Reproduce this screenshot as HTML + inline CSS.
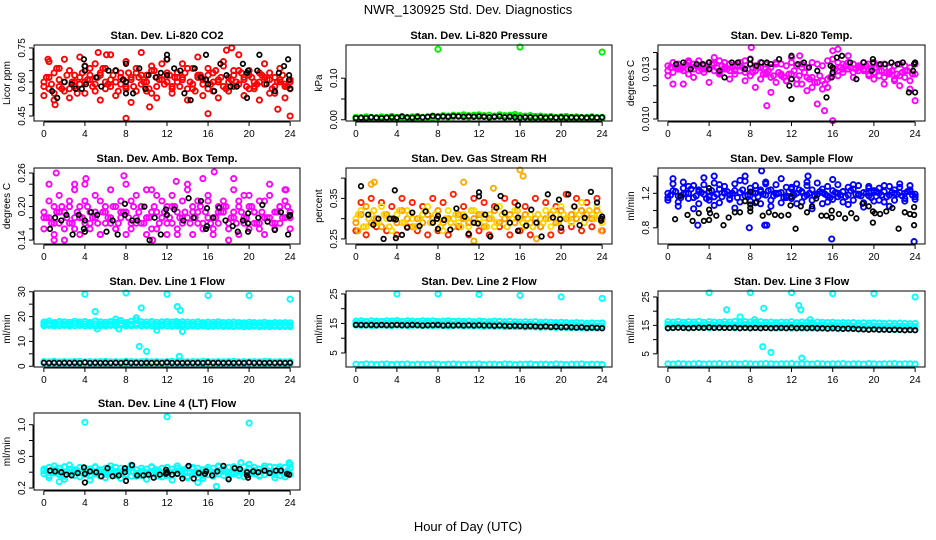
<!DOCTYPE html>
<html><head><meta charset="utf-8"><title>NWR_130925 Std. Dev. Diagnostics</title>
<style>
html,body{margin:0;padding:0;background:#fff;}
svg{display:block;font-family:"Liberation Sans",Arial,sans-serif;}
</style></head>
<body>
<svg id="chart" width="936" height="540" viewBox="0 0 936 540" xmlns="http://www.w3.org/2000/svg">
<rect x="0" y="0" width="936" height="540" fill="#fff"/>
<text x="468" y="14" text-anchor="middle" font-size="13">NWR_130925  Std. Dev. Diagnostics</text>
<text x="468" y="531" text-anchor="middle" font-size="13">Hour of Day (UTC)</text>
</svg>
<script>
const HH=[0,0.5,1,1.5,2,2.5,3,3.5,4,4.5,5,5.5,6,6.5,7,7.5,8,8.5,9,9.5,10,10.5,11,11.5,12,12.5,13,13.5,14,14.5,15,15.5,16,16.5,17,17.5,18,18.5,19,19.5,20,20.5,21,21.5,22,22.5,23,23.5,24];
const HQ=[0.25,0.75,1.25,1.75,2.25,2.75,3.25,3.75,4.25,4.75,5.25,5.75,6.25,6.75,7.25,7.75,8.25,8.75,9.25,9.75,10.25,10.75,11.25,11.75,12.25,12.75,13.25,13.75,14.25,14.75,15.25,15.75,16.25,16.75,17.25,17.75,18.25,18.75,19.25,19.75,20.25,20.75,21.25,21.75,22.25,22.75,23.25,23.75];
const X_TICKS=[0,4,8,12,16,20,24];

// Panel 1 CO2
const co2A=[0.58,0.62,0.55,0.66,0.60,0.57,0.63,0.59,0.67,0.61,0.56,0.64,0.60,0.58,0.65,0.62,0.57,0.61,0.66,0.59,0.63,0.55,0.62,0.68,0.60,0.58,0.64,0.61,0.57,0.66,0.62,0.59,0.63,0.56,0.61,0.67,0.60,0.58,0.65,0.62,0.57,0.60,0.64,0.59,0.55,0.62,0.60,0.58,0.61];
const co2B=[0.54,0.69,0.52,0.58,0.70,0.53,0.60,0.71,0.55,0.63,0.68,0.52,0.66,0.72,0.54,0.59,0.69,0.51,0.64,0.73,0.56,0.67,0.53,0.61,0.70,0.55,0.62,0.68,0.52,0.57,0.71,0.54,0.66,0.60,0.53,0.69,0.56,0.63,0.72,0.54,0.65,0.58,0.52,0.68,0.61,0.55,0.66,0.53,0.57];
const co2C=[0.60,0.57,0.64,0.61,0.56,0.65,0.58,0.62,0.60,0.66,0.59,0.63,0.57,0.61,0.60,0.64,0.58,0.62,0.56,0.63,0.60,0.65,0.58,0.61,0.64,0.57,0.60,0.62,0.66,0.59,0.63,0.61,0.57,0.64,0.60,0.58,0.62,0.65,0.59,0.61,0.63,0.57,0.60,0.62,0.64,0.58,0.61,0.59,0.60];
const co2D=[0.62,0.59,0.66,0.57,0.63,0.60,0.55,0.64,0.61,0.58,0.62,0.66,0.59,0.63,0.56,0.61,0.64,0.58,0.62,0.60,0.57,0.65,0.61,0.59,0.63,0.62,0.58,0.64,0.60,0.56,0.63,0.61,0.59,0.65,0.62,0.57,0.61,0.60,0.64,0.58,0.62,0.59,0.63,0.61,0.57,0.60,0.63,0.58];
const co2OutX=[8,16,24,5.3,6.1,18.3,17.8,0.4,1.1,10.3,22.8];
const co2OutY=[0.44,0.46,0.45,0.73,0.72,0.75,0.74,0.70,0.50,0.49,0.48];
const co2BlkX=[0.8,1.3,2,2.7,3.1,3.7,3.9,4,4,4.1,5.1,5.6,6.3,7,7.7,8,8,8,8.7,9.3,9.9,10.2,10.9,11.4,12,12,12,12.7,13.3,13.7,14.3,14.7,15.3,15.8,15.8,16,16.6,17.2,17.8,18.2,18.8,19.4,19.8,19.8,19.9,21,20.8,21.7,22.5,22.9,23.4,23.8,23.9,23.9,24];
const co2BlkY=[0.56,0.53,0.60,0.59,0.57,0.57,0.70,0.67,0.65,0.59,0.62,0.58,0.65,0.65,0.61,0.60,0.68,0.55,0.55,0.66,0.57,0.63,0.62,0.64,0.70,0.72,0.63,0.66,0.65,0.55,0.52,0.66,0.62,0.61,0.72,0.59,0.56,0.68,0.63,0.58,0.58,0.68,0.64,0.53,0.65,0.72,0.65,0.59,0.56,0.64,0.67,0.70,0.63,0.61,0.57];

// Panel 2 pressure
const presA=[0.006,0.005,0.007,0.006,0.005,0.007,0.006,0.008,0.006,0.007,0.005,0.007,0.008,0.006,0.007,0.009,0.008,0.010,0.009,0.011,0.010,0.012,0.010,0.011,0.012,0.010,0.011,0.009,0.012,0.010,0.011,0.013,0.010,0.009,0.010,0.008,0.009,0.007,0.008,0.006,0.007,0.008,0.006,0.007,0.005,0.006,0.007,0.005,0.006];
const presB=[0.003,0.004,0.003,0.005,0.004,0.003,0.005,0.004,0.005,0.004,0.003,0.005,0.004,0.005,0.006,0.005,0.006,0.007,0.006,0.007,0.008,0.007,0.006,0.008,0.007,0.008,0.006,0.007,0.008,0.006,0.007,0.008,0.006,0.007,0.005,0.006,0.005,0.004,0.006,0.005,0.004,0.005,0.004,0.005,0.004,0.003,0.004,0.005,0.004];
const presBlk=[0.004,0.005,0.004,0.006,0.005,0.004,0.005,0.006,0.005,0.008,0.006,0.005,0.007,0.006,0.007,0.009,0.007,0.008,0.007,0.009,0.008,0.007,0.008,0.007,0.008,0.007,0.006,0.007,0.008,0.006,0.007,0.006,0.005,0.006,0.006,0.005,0.006,0.005,0.006,0.005,0.006,0.005,0.006,0.005,0.006,0.005,0.006,0.005,0.006];
const presOutX=[8,16,24];
const presOutY=[0.170,0.175,0.163];

// Panel 3 Li-820 temp
const tmpA=[0.0132,0.0134,0.0133,0.0131,0.0134,0.0133,0.0135,0.0132,0.0134,0.0133,0.0135,0.0134,0.0133,0.0132,0.0134,0.0135,0.0133,0.0132,0.0134,0.0133,0.0131,0.0134,0.0133,0.0132,0.0134,0.0132,0.0133,0.0131,0.0134,0.0133,0.0132,0.0135,0.0136,0.0134,0.0133,0.0134,0.0133,0.0132,0.0134,0.0133,0.0134,0.0132,0.0133,0.0131,0.0132,0.0133,0.0132,0.0131,0.0133];
const tmpB=[0.0129,0.0128,0.0130,0.0129,0.0127,0.0130,0.0129,0.0128,0.0130,0.0129,0.0128,0.0130,0.0129,0.0127,0.0129,0.0128,0.0126,0.0129,0.0124,0.0127,0.0125,0.0122,0.0126,0.0123,0.0127,0.0124,0.0121,0.0125,0.0119,0.0122,0.0118,0.0124,0.0127,0.0129,0.0128,0.0130,0.0128,0.0129,0.0130,0.0127,0.0128,0.0126,0.0125,0.0127,0.0124,0.0126,0.0125,0.0123,0.0127];
const tmpC=[0.0126,0.0121,0.0131,0.0121,0.0135,0.0125,0.0132,0.0130,0.0122,0.0137,0.0127,0.0131,0.0124,0.0129,0.0132,0.0123,0.0136,0.0119,0.0131,0.0128,0.0116,0.0133,0.0127,0.0123,0.0137,0.0121,0.0131,0.0117,0.0125,0.0109,0.0123,0.0119,0.0141,0.0126,0.0130,0.0138,0.0125,0.0131,0.0129,0.0126,0.0124,0.0129,0.0121,0.0128,0.0123,0.0120,0.0129,0.0118,0.0111];
const tmpD=[0.0131,0.0132,0.0130,0.0133,0.0131,0.0132,0.0130,0.0131,0.0133,0.0131,0.0132,0.0130,0.0131,0.0132,0.0131,0.0130,0.0128,0.0131,0.0127,0.0129,0.0126,0.0128,0.0125,0.0127,0.0129,0.0126,0.0128,0.0124,0.0122,0.0126,0.0121,0.0125,0.0130,0.0131,0.0132,0.0131,0.0130,0.0131,0.0132,0.0130,0.0131,0.0129,0.0128,0.0129,0.0127,0.0128,0.0129,0.0127];
const tmpOutX=[8.1,16,9.6,16.5,12.8,15.2];
const tmpOutY=[0.0143,0.0099,0.0108,0.0142,0.0138,0.0105];
const tmpBlkX=[0.8,1.5,2.2,2.8,3.4,4,4,5,5.5,6.2,6.8,7.5,8,8,8.6,9.1,9.6,10,10.8,11.8,12,12,12,12.6,13.2,13.7,14.5,15.4,15.8,15.9,16,16,16.4,16.9,17.7,18.3,19,19.9,19.9,19.8,20.6,21.1,21.7,22.3,22.8,23.4,23.8,23.9,24,24];
const tmpBlkY=[0.0133,0.0134,0.0130,0.0133,0.0133,0.0134,0.0130,0.0129,0.0125,0.0134,0.0134,0.0130,0.0133,0.0136,0.0132,0.0134,0.0134,0.0133,0.0136,0.0120,0.0138,0.0124,0.0112,0.0133,0.0134,0.0131,0.0129,0.0113,0.0132,0.0125,0.0128,0.0131,0.0137,0.0138,0.0134,0.0124,0.0134,0.0136,0.0134,0.0129,0.0133,0.0133,0.0134,0.0133,0.0134,0.0116,0.0129,0.0133,0.0134,0.0116];

// Panel 4 amb box temp
const ambA=[0.19,0.18,0.20,0.17,0.19,0.21,0.18,0.20,0.17,0.19,0.18,0.21,0.19,0.17,0.20,0.18,0.19,0.21,0.17,0.20,0.18,0.19,0.22,0.18,0.20,0.17,0.19,0.21,0.18,0.20,0.19,0.17,0.21,0.18,0.19,0.20,0.17,0.19,0.21,0.18,0.20,0.19,0.17,0.21,0.18,0.19,0.20,0.18,0.19];
const ambB=[0.16,0.21,0.15,0.22,0.16,0.17,0.23,0.15,0.21,0.16,0.22,0.15,0.17,0.23,0.16,0.21,0.15,0.16,0.22,0.17,0.15,0.23,0.16,0.21,0.15,0.22,0.16,0.17,0.23,0.15,0.21,0.16,0.22,0.15,0.17,0.21,0.16,0.23,0.15,0.22,0.16,0.17,0.21,0.15,0.22,0.16,0.17,0.21,0.16];
const ambC=[0.18,0.24,0.17,0.19,0.14,0.20,0.16,0.18,0.24,0.17,0.19,0.15,0.20,0.18,0.16,0.19,0.24,0.17,0.18,0.20,0.23,0.16,0.19,0.18,0.17,0.20,0.15,0.18,0.24,0.19,0.17,0.25,0.18,0.16,0.20,0.19,0.14,0.18,0.20,0.17,0.22,0.19,0.16,0.18,0.24,0.17,0.20,0.23,0.18];
const ambD=[0.18,0.17,0.19,0.20,0.18,0.17,0.19,0.18,0.20,0.18,0.17,0.19,0.18,0.20,0.17,0.19,0.18,0.20,0.19,0.17,0.18,0.20,0.17,0.19,0.18,0.20,0.18,0.19,0.17,0.18,0.20,0.19,0.17,0.18,0.19,0.20,0.18,0.17,0.19,0.18,0.20,0.17,0.19,0.18,0.17,0.19,0.18,0.20];
const ambOutX=[1.2,7.8,16.6,4.1,1,3,12.9,18.5,23.6,10.6];
const ambOutY=[0.26,0.255,0.262,0.25,0.14,0.24,0.245,0.25,0.23,0.14];
const ambBlkX=[0.6,1.1,1.7,2.2,2.8,3.4,3.9,4,4,4.6,5.2,6.1,6.7,7.2,7.9,7.9,8.6,9.1,9.8,10.3,10.8,11.4,11.9,12,12.7,13.6,14.1,14.6,15.3,15.9,15.9,15.8,16.5,17.1,17.7,18.4,18.9,19.4,19.9,19.9,19.9,20.9,21.3,21.8,22.5,23.1,23.8,23.9,24];
const ambBlkY=[0.16,0.18,0.175,0.185,0.15,0.185,0.16,0.155,0.175,0.19,0.185,0.155,0.175,0.15,0.205,0.185,0.175,0.175,0.2,0.14,0.18,0.15,0.195,0.185,0.195,0.175,0.215,0.18,0.21,0.197,0.165,0.16,0.18,0.198,0.175,0.165,0.155,0.175,0.155,0.17,0.188,0.18,0.203,0.173,0.158,0.19,0.15,0.183,0.185];

// Panel 5 gas stream RH
const rhA=[0.30,0.32,0.28,0.31,0.29,0.33,0.30,0.27,0.31,0.29,0.32,0.30,0.28,0.31,0.33,0.29,0.30,0.27,0.32,0.30,0.29,0.31,0.28,0.32,0.30,0.29,0.31,0.28,0.33,0.30,0.29,0.32,0.30,0.28,0.31,0.29,0.30,0.32,0.28,0.31,0.33,0.30,0.29,0.32,0.34,0.30,0.31,0.33,0.29];
const rhB=[0.27,0.34,0.26,0.35,0.28,0.34,0.27,0.33,0.26,0.35,0.28,0.34,0.27,0.33,0.26,0.35,0.27,0.34,0.26,0.36,0.28,0.33,0.26,0.35,0.27,0.34,0.26,0.33,0.28,0.35,0.26,0.34,0.27,0.33,0.26,0.35,0.28,0.34,0.26,0.33,0.27,0.36,0.28,0.35,0.27,0.34,0.28,0.35,0.27];
const rhC=[0.29,0.31,0.33,0.29,0.30,0.28,0.31,0.30,0.29,0.32,0.30,0.28,0.30,0.29,0.31,0.30,0.32,0.29,0.30,0.28,0.31,0.30,0.29,0.30,0.31,0.28,0.30,0.32,0.29,0.30,0.31,0.29,0.30,0.31,0.29,0.30,0.28,0.30,0.31,0.29,0.32,0.30,0.31,0.30,0.32,0.31,0.30,0.32,0.30];
const rhD=[0.31,0.28,0.30,0.32,0.29,0.31,0.28,0.30,0.32,0.29,0.31,0.28,0.30,0.32,0.29,0.31,0.28,0.30,0.29,0.31,0.28,0.30,0.32,0.29,0.31,0.28,0.30,0.29,0.31,0.28,0.30,0.32,0.29,0.30,0.28,0.31,0.29,0.30,0.32,0.29,0.31,0.30,0.33,0.31,0.29,0.32,0.30,0.31];
const rhOutX=[1.5,1.8,10.5,16.3,16,13.4,0.2,23.9,11.5,17.6];
const rhOutY=[0.385,0.39,0.39,0.405,0.42,0.375,0.27,0.27,0.245,0.25];
const rhBlkX=[0.5,1.2,1.7,2.2,2.7,3.3,3.7,3.8,3.9,3.9,4.5,5,5.5,6.2,6.8,7.5,7.9,8,8,8.6,9.2,9.8,10.6,11,11.5,11.9,12,12,12.6,13.1,13.7,14.1,14.5,15,15.8,15.8,15.8,16.6,17.1,17.6,18.1,18.7,19.2,19.8,19.9,20,20.7,21.3,21.8,22.3,22.9,23.5,23.9,24,23.9];
const rhBlkY=[0.38,0.31,0.285,0.30,0.25,0.30,0.30,0.37,0.298,0.252,0.26,0.278,0.315,0.282,0.318,0.29,0.30,0.307,0.275,0.297,0.273,0.325,0.305,0.263,0.29,0.288,0.365,0.355,0.31,0.256,0.327,0.356,0.315,0.29,0.333,0.27,0.303,0.283,0.322,0.29,0.256,0.36,0.303,0.347,0.299,0.278,0.36,0.33,0.284,0.302,0.366,0.34,0.30,0.305,0.295];

// Panel 6 sample flow
const sfA=[1.20,1.23,1.17,1.26,1.20,1.15,1.24,1.19,1.22,1.16,1.25,1.20,1.18,1.23,1.21,1.17,1.26,1.20,1.22,1.18,1.24,1.19,1.21,1.17,1.25,1.20,1.22,1.18,1.24,1.19,1.21,1.17,1.23,1.20,1.22,1.18,1.25,1.19,1.21,1.17,1.23,1.20,1.22,1.18,1.24,1.21,1.20,1.22,1.19];
const sfB=[1.12,1.31,1.10,1.33,1.14,1.29,1.08,1.30,1.12,1.32,1.09,1.28,1.13,1.31,1.10,1.34,1.11,1.29,1.08,1.33,1.12,1.30,1.09,1.27,1.14,1.31,1.10,1.29,1.12,1.32,1.08,1.28,1.13,1.30,1.10,1.27,1.12,1.29,1.09,1.28,1.11,1.26,1.10,1.28,1.12,1.27,1.11,1.29,1.13];
const sfC=[1.15,1.37,1.05,1.19,1.28,1.02,1.22,1.38,1.16,1.06,1.30,1.21,1.14,1.03,1.35,1.40,1.18,1.09,1.24,1.31,1.05,1.20,1.37,1.15,1.27,1.08,1.21,1.33,1.02,1.19,1.25,1.10,1.36,1.16,1.22,1.07,1.30,1.18,1.04,1.26,1.21,1.12,1.29,1.05,1.20,1.31,1.14,1.24,1.16];
const sfD=[1.18,1.22,1.15,1.20,1.25,1.17,1.21,1.14,1.23,1.19,1.16,1.22,1.20,1.15,1.24,1.18,1.21,1.16,1.19,1.23,1.17,1.20,1.15,1.22,1.18,1.24,1.16,1.20,1.17,1.22,1.19,1.15,1.21,1.18,1.16,1.23,1.19,1.17,1.20,1.15,1.22,1.18,1.16,1.21,1.19,1.17,1.22,1.18];
const sfOutX=[7.9,9.4,9.6,15.9,23.9,2.9,9.1,4.5,13.6];
const sfOutY=[0.8,0.83,0.83,0.67,0.64,0.83,1.46,1.4,1.4];
const sfBlkX=[0.7,1.2,1.9,2.4,3,3.5,4,4,4.1,4,4.7,5.4,5.9,6.5,7,7.5,8,8,8,8,8.6,9.2,9.8,10.4,11,11.7,11.9,12,12.4,12.9,13.5,14,14.4,14.9,15.4,15.9,15.9,16.6,17.2,17.8,18.3,18.9,19.5,19.9,19.9,20.1,20.6,21.2,21.8,22.4,23,23.5,23.9,23.9,23.9];
const sfBlkY=[0.9,1.17,0.95,0.88,0.97,0.88,0.89,1.26,0.97,1.01,0.94,0.83,0.92,0.98,0.98,1.11,1.03,0.99,1.22,1.07,1.1,0.94,0.98,0.95,0.94,0.95,1.06,1.16,0.79,1.05,0.98,1.05,1.14,0.94,0.94,1.0,0.92,0.96,0.91,0.97,0.91,1.08,1.05,0.99,0.86,0.97,0.96,0.99,1.03,0.79,0.98,0.96,0.95,1.04,0.83];

// Panel 7 line 1 flow
const l1Top=[17.8,18.2,17.6,18.0,17.9,17.7,18.1,17.8,18.0,17.6,18.2,17.9,17.7,18.0,17.8,18.4,17.6,18.1,19.5,17.9,17.8,18.0,17.7,17.9,18.0,17.8,17.6,17.9,17.8,17.7,17.9,17.6,17.8,17.7,17.9,17.6,17.7,17.8,17.6,17.5,17.7,17.6,17.5,17.7,17.4,17.6,17.5,17.6,17.5];
const l1Mid=[17.0,17.2,16.9,17.1,17.0,16.9,17.2,17.0,17.1,16.8,17.1,17.0,16.9,17.1,17.0,17.3,16.9,17.0,17.2,17.0,16.9,17.1,16.8,17.0,17.1,16.9,16.8,17.0,16.9,16.8,17.0,16.8,16.9,16.8,17.0,16.7,16.8,16.9,16.7,16.7,16.8,16.7,16.6,16.8,16.6,16.7,16.6,16.7,16.6];
const l1Bot=[16.3,16.4,16.2,16.3,16.4,16.2,16.3,16.4,16.2,16.3,16.1,16.3,16.2,16.4,16.3,16.5,16.2,16.3,16.4,16.2,16.3,16.2,16.1,16.3,16.2,16.1,16.2,16.3,16.1,16.2,16.1,16.2,16.0,16.1,16.2,16.0,16.1,16.0,16.1,15.9,16.0,16.1,15.9,16.0,15.9,16.0,15.9,16.0,15.9];
const l1LowA=[1.9,1.8,2.0,1.8,1.9,1.8,1.9,2.0,1.8,1.9,1.8,1.9,2.0,1.8,1.9,1.8,2.0,1.9,1.8,1.9,2.0,1.8,1.9,1.8,1.9,2.0,1.8,1.9,1.8,1.9,1.8,2.0,1.9,1.8,1.9,1.8,1.9,2.0,1.8,1.9,1.8,1.9,1.8,2.0,1.9,1.8,1.9,1.8,1.9];
const l1LowB=[1.3,1.2,1.3,1.1,1.2,1.3,1.2,1.1,1.3,1.2,1.2,1.3,1.1,1.2,1.3,1.2,1.1,1.2,1.3,1.2,1.1,1.3,1.2,1.2,1.1,1.3,1.2,1.1,1.2,1.3,1.2,1.1,1.2,1.3,1.2,1.1,1.2,1.2,1.3,1.1,1.2,1.3,1.2,1.1,1.2,1.3,1.2,1.1,1.2];
const l1Blk=[1.4,1.3,1.4,1.3,1.4,1.3,1.4,1.3,1.5,1.3,1.4,1.3,1.4,1.3,1.4,1.3,1.5,1.3,1.4,1.3,1.4,1.3,1.4,1.3,1.5,1.3,1.4,1.3,1.4,1.3,1.4,1.3,1.5,1.3,1.4,1.3,1.4,1.3,1.4,1.3,1.5,1.3,1.4,1.3,1.4,1.3,1.4,1.3,1.4];
const l1OutX=[4,8,12,16,20,24,5,5.2,7,7.3,9.3,9.5,10,11,13,13.2,13.3,13.5,9,12.9];
const l1OutY=[29,29.5,29,28.5,28.5,27,22,15,19,15,8,23.5,6,14.5,24,4,22.5,14,18.5,18];

// Panel 8 line 2 flow
const l2Top=[15.8,15.9,15.7,15.9,15.8,15.7,15.9,15.8,16.0,15.7,15.9,15.8,15.7,15.9,15.8,15.9,15.7,15.8,15.9,15.7,15.8,15.7,15.8,15.6,15.8,15.7,15.6,15.8,15.7,15.6,15.7,15.6,15.5,15.6,15.5,15.6,15.4,15.5,15.4,15.3,15.4,15.3,15.2,15.3,15.2,15.1,15.2,15.1,15.2];
const l2Mid=[15.0,15.1,14.9,15.0,15.1,14.9,15.0,15.0,15.1,14.9,15.0,15.0,14.9,15.0,15.1,14.9,15.0,14.9,15.0,14.8,14.9,15.0,14.8,14.9,14.9,14.8,14.9,14.8,14.7,14.8,14.7,14.8,14.6,14.7,14.6,14.5,14.6,14.5,14.4,14.5,14.4,14.3,14.4,14.3,14.2,14.3,14.2,14.1,14.2];
const l2Bot=[14.4,14.3,14.4,14.2,14.3,14.4,14.3,14.2,14.4,14.3,14.2,14.3,14.4,14.2,14.3,14.2,14.3,14.2,14.1,14.2,14.3,14.1,14.2,14.1,14.2,14.0,14.1,14.0,14.1,13.9,14.0,13.9,14.0,13.8,13.9,13.8,13.7,13.8,13.7,13.6,13.7,13.6,13.5,13.6,13.5,13.4,13.5,13.4,13.5];
const l2Low=[1.2,1.1,1.3,1.2,1.1,1.2,1.3,1.1,1.2,1.2,1.3,1.1,1.2,1.2,1.1,1.3,1.2,1.1,1.2,1.3,1.2,1.1,1.2,1.2,1.3,1.1,1.2,1.2,1.1,1.3,1.2,1.1,1.2,1.2,1.3,1.1,1.2,1.2,1.1,1.3,1.2,1.1,1.2,1.2,1.3,1.1,1.2,1.2,1.1];
const l2Blk=[14.5,14.5,14.4,14.5,14.4,14.5,14.4,14.4,14.5,14.4,14.4,14.5,14.4,14.3,14.4,14.4,14.5,14.3,14.4,14.3,14.4,14.3,14.4,14.3,14.4,14.3,14.3,14.2,14.3,14.2,14.1,14.2,14.1,14.0,14.1,14.0,13.9,14.0,13.8,13.9,13.7,13.8,13.7,13.6,13.7,13.5,13.6,13.5,13.4];
const l2OutX=[4,8,12,16,20,24];
const l2OutY=[25,25,24.8,24.5,24,23.5];

// Panel 9 line 3 flow
const l3Top=[16.3,16.2,16.4,16.1,16.3,16.2,16.4,16.1,16.3,16.2,16.1,16.3,16.2,16.4,16.1,16.3,16.2,16.1,16.3,16.1,16.2,16.0,16.2,16.1,16.3,16.0,16.2,16.1,16.0,16.2,16.1,16.0,16.1,15.9,16.0,15.9,16.0,15.8,15.9,15.8,15.9,15.8,15.7,15.8,15.7,15.8,15.7,15.6,15.7];
const l3Mid=[15.3,15.2,15.3,15.1,15.2,15.3,15.1,15.2,15.3,15.1,15.2,15.3,15.2,15.1,15.2,15.3,15.1,15.2,15.1,15.2,15.1,15.2,15.0,15.1,15.2,15.0,15.1,15.0,15.1,15.0,15.1,14.9,15.0,14.9,15.0,14.9,14.8,14.9,14.8,14.9,14.8,14.7,14.8,14.7,14.8,14.7,14.6,14.7,14.6];
const l3Bot=[14.3,14.2,14.4,14.2,14.3,14.2,14.3,14.4,14.2,14.3,14.2,14.3,14.2,14.1,14.2,14.3,14.1,14.2,14.1,14.2,14.1,14.0,14.1,14.2,14.0,14.1,14.0,14.1,14.0,13.9,14.0,13.9,14.0,13.8,13.9,13.8,13.9,13.7,13.8,13.7,13.8,13.6,13.7,13.6,13.5,13.6,13.5,13.4,13.5];
const l3Low=[1.5,1.4,1.6,1.5,1.4,1.5,1.6,1.4,1.5,1.5,1.6,1.4,1.5,1.5,1.4,1.6,1.5,1.4,1.5,1.6,1.5,1.4,1.5,1.5,1.6,1.4,1.5,1.5,1.4,1.6,1.5,1.4,1.5,1.5,1.6,1.4,1.5,1.5,1.4,1.6,1.5,1.4,1.5,1.5,1.6,1.4,1.5,1.5,1.4];
const l3Blk=[14.0,14.1,14.2,14.1,14.0,14.1,14.2,14.1,14.3,14.1,14.2,14.1,14.1,14.2,14.0,14.1,14.0,14.1,14.0,14.1,14.0,14.1,14.1,14.0,14.2,14.0,14.1,14.0,14.1,14.0,14.0,13.9,14.0,13.9,13.8,13.9,13.8,13.7,13.6,13.5,13.6,13.5,13.5,13.4,13.5,13.4,13.3,13.4,13.3];
const l3OutX=[4,8,12,16,20,24,5.7,7,9.3,9.2,10,12.7,12.9,13,8.4,13.8];
const l3OutY=[26.5,26.5,26.5,26.2,26.2,25,20.5,18,21,7.5,5.5,22,20.5,3.5,17,17];

// Panel 10 line 4 flow
const l4A=[0.44,0.46,0.43,0.45,0.47,0.44,0.43,0.46,0.45,0.44,0.46,0.43,0.45,0.44,0.46,0.45,0.44,0.47,0.43,0.45,0.44,0.46,0.43,0.45,0.46,0.44,0.45,0.43,0.46,0.44,0.45,0.43,0.46,0.45,0.47,0.44,0.46,0.45,0.44,0.47,0.45,0.46,0.44,0.45,0.47,0.46,0.44,0.46,0.45];
const l4B=[0.38,0.36,0.39,0.37,0.35,0.38,0.36,0.39,0.37,0.36,0.38,0.35,0.37,0.39,0.36,0.38,0.37,0.35,0.38,0.36,0.37,0.39,0.35,0.38,0.36,0.37,0.38,0.36,0.35,0.37,0.38,0.36,0.37,0.39,0.38,0.36,0.37,0.38,0.36,0.39,0.37,0.38,0.36,0.37,0.39,0.37,0.36,0.38,0.37];
const l4C=[0.42,0.33,0.48,0.40,0.31,0.49,0.41,0.34,0.42,0.30,0.47,0.40,0.33,0.48,0.41,0.32,0.42,0.49,0.35,0.41,0.31,0.47,0.40,0.34,0.42,0.30,0.48,0.41,0.33,0.46,0.40,0.32,0.43,0.35,0.48,0.41,0.33,0.47,0.40,0.34,0.50,0.42,0.35,0.48,0.41,0.33,0.47,0.34,0.50];
const l4D=[0.41,0.40,0.42,0.39,0.41,0.40,0.42,0.40,0.39,0.41,0.42,0.40,0.41,0.39,0.40,0.42,0.41,0.40,0.39,0.41,0.40,0.42,0.41,0.39,0.40,0.41,0.42,0.40,0.39,0.41,0.40,0.42,0.41,0.40,0.42,0.41,0.39,0.40,0.42,0.41,0.40,0.39,0.41,0.42,0.40,0.41,0.40,0.42];
const l4OutX=[4,12,20,16.8,1.5,15,23.9,19.2];
const l4OutY=[1.03,1.1,1.02,0.22,0.28,0.27,0.52,0.52];
const l4BlkX=[0.6,1.1,1.7,2.2,2.7,3.3,3.9,4,4,4.5,5.1,5.6,6.2,6.7,7.3,7.9,7.9,8,8.6,9.1,9.7,10.2,10.7,11.3,11.9,11.9,12,12.5,13,13.5,14.1,14.6,15.1,15.7,15.8,16.4,16.9,17.5,18,18.6,19.1,19.8,19.8,19.9,20.4,20.9,21.5,22,22.6,23.1,23.7,23.9];
const l4BlkY=[0.42,0.41,0.40,0.37,0.36,0.39,0.46,0.38,0.27,0.41,0.40,0.35,0.45,0.35,0.36,0.40,0.45,0.29,0.49,0.36,0.36,0.37,0.33,0.37,0.43,0.38,0.40,0.37,0.38,0.32,0.48,0.32,0.39,0.38,0.41,0.36,0.41,0.48,0.31,0.45,0.44,0.40,0.36,0.33,0.41,0.40,0.42,0.39,0.42,0.42,0.38,0.37];

const COLS=[[34,300],[346,612],[658,925]];
const ROWS=[[45,121],[168,244],[291,367],[413,490]];
const svg=document.getElementById('chart');
const NS='http://www.w3.org/2000/svg';
function mk(tag,attrs,parent){const e=document.createElementNS(NS,tag);for(const k in attrs)e.setAttribute(k,attrs[k]);(parent||svg).appendChild(e);return e;}

const panels=[
 {key:'co2',title:'Stan. Dev. Li-820 CO2',ylab:'Licor ppm',c:0,r:0,ylim:[0.428,0.763],ticks:[0.45,0.5,0.55,0.6,0.65,0.7,0.75],labels:[[0.45,'0.45'],[0.6,'0.60'],[0.75,'0.75']],
  series:[[HH,co2B,'#ff0000'],[HH,co2A,'#ff0000'],[HH,co2C,'#ff0000'],[HQ,co2D,'#ff0000'],[co2OutX,co2OutY,'#ff0000'],[co2BlkX,co2BlkY,'#000']]},
 {key:'pressure',title:'Stan. Dev. Li-820 Pressure',ylab:'kPa',c:1,r:0,ylim:[-0.003,0.18],ticks:[0,0.05,0.1],labels:[[0,'0.00'],[0.1,'0.10']],
  series:[[HH,presA,'#00ee00'],[HH,presB,'#00ee00'],[HH,presBlk,'#000'],[presOutX,presOutY,'#00ee00']]},
 {key:'li820-temp',title:'Stan. Dev. Li-820 Temp.',ylab:'degrees C',c:2,r:0,ylim:[0.00988,0.01445],ticks:[0.010,0.011,0.012,0.013,0.014],labels:[[0.010,'0.010'],[0.013,'0.013']],
  series:[[HH,tmpC,'#ff00ff'],[HH,tmpA,'#ff00ff'],[HH,tmpB,'#ff00ff'],[HQ,tmpD,'#ff00ff'],[tmpOutX,tmpOutY,'#ff00ff'],[tmpBlkX,tmpBlkY,'#000']]},
 {key:'amb-box-temp',title:'Stan. Dev. Amb. Box Temp.',ylab:'degrees C',c:0,r:1,ylim:[0.133,0.269],ticks:[0.14,0.16,0.18,0.2,0.22,0.24,0.26],labels:[[0.14,'0.14'],[0.2,'0.20'],[0.26,'0.26']],
  series:[[HH,ambB,'#ff00ff'],[HH,ambA,'#ff00ff'],[HH,ambC,'#ff00ff'],[HQ,ambD,'#ff00ff'],[ambOutX,ambOutY,'#ff00ff'],[ambBlkX,ambBlkY,'#000']]},
 {key:'gas-rh',title:'Stan. Dev. Gas Stream RH',ylab:'percent',c:1,r:1,ylim:[0.2375,0.425],ticks:[0.25,0.3,0.35,0.4],labels:[[0.25,'0.25'],[0.35,'0.35']],
  series:[[HH,rhB,'#ff2200'],[HH,rhA,'#ffdd00'],[HH,rhC,'#ff9900'],[HQ,rhD,'#ffcc00'],[rhOutX,rhOutY,'#ffaa00'],[rhBlkX,rhBlkY,'#000']]},
 {key:'sample-flow',title:'Stan. Dev. Sample Flow',ylab:'ml/min',c:2,r:1,ylim:[0.612,1.494],ticks:[0.8,1.0,1.2,1.4],labels:[[0.8,'0.8'],[1.2,'1.2']],
  series:[[HH,sfC,'#0000ff'],[HH,sfB,'#0000ff'],[HH,sfA,'#0000ff'],[HQ,sfD,'#0000ff'],[sfOutX,sfOutY,'#0000ff'],[sfBlkX,sfBlkY,'#000']]},
 {key:'line1-flow',title:'Stan. Dev. Line 1 Flow',ylab:'ml/min',c:0,r:2,ylim:[-0.3,30.3],ticks:[0,5,10,15,20,25,30],labels:[[0,'0'],[10,'10'],[20,'20'],[30,'30']],
  series:[[HH,l1Top,'#00ffff'],[HH,l1Mid,'#00ffff'],[HH,l1Bot,'#00ffff'],[HH,l1LowA,'#00ffff'],[HH,l1LowB,'#00ffff'],[l1OutX,l1OutY,'#00ffff'],[HH,l1Blk,'#000']]},
 {key:'line2-flow',title:'Stan. Dev. Line 2 Flow',ylab:'ml/min',c:1,r:2,ylim:[0.25,26],ticks:[5,10,15,20,25],labels:[[5,'5'],[15,'15'],[25,'25']],
  series:[[HH,l2Top,'#00ffff'],[HH,l2Mid,'#00ffff'],[HH,l2Bot,'#00ffff'],[HH,l2Low,'#00ffff'],[l2OutX,l2OutY,'#00ffff'],[HH,l2Blk,'#000']]},
 {key:'line3-flow',title:'Stan. Dev. Line 3 Flow',ylab:'ml/min',c:2,r:2,ylim:[0.36,27.1],ticks:[5,10,15,20,25],labels:[[5,'5'],[15,'15'],[25,'25']],
  series:[[HH,l3Top,'#00ffff'],[HH,l3Mid,'#00ffff'],[HH,l3Bot,'#00ffff'],[HH,l3Low,'#00ffff'],[l3OutX,l3OutY,'#00ffff'],[HH,l3Blk,'#000']]},
 {key:'line4-flow',title:'Stan. Dev. Line 4 (LT) Flow',ylab:'ml/min',c:0,r:3,ylim:[0.175,1.148],ticks:[0.2,0.4,0.6,0.8,1.0],labels:[[0.2,'0.2'],[0.6,'0.6'],[1.0,'1.0']],
  series:[[HH,l4A,'#00ffff'],[HH,l4B,'#00ffff'],[HH,l4C,'#00ffff'],[HQ,l4D,'#00ffff'],[l4OutX,l4OutY,'#00ffff'],[l4BlkX,l4BlkY,'#000']]}
];

panels.forEach(p=>{
  const [x0,x1]=COLS[p.c],[y0,y1]=ROWS[p.r];
  const g=mk('g',{});
  
  
  const xs=v=>x0+(v+0.96)/25.92*(x1-x0);
  const ys=v=>y1-(v-p.ylim[0])/(p.ylim[1]-p.ylim[0])*(y1-y0);
  const t=mk('text',{x:(x0+x1)/2,y:y0-6,'text-anchor':'middle','font-size':'11','font-weight':'bold'},g);
  t.textContent=p.title;
  
  
  const clip=mk('g',{},g);
  
  
  p.series.forEach(s=>{
    const [X,Y,col]=s;
    const isBlk=col==='#000';
    for(let i=0;i<Y.length;i++){
      const c=mk('circle',{cx:xs(X[i]).toFixed(1),cy:ys(Y[i]).toFixed(1),r:isBlk?'2.3':'2.6',fill:'none',stroke:col,'stroke-width':isBlk?'1.7':'1.9'},clip);
      
      
    }
  });
  const box=mk('rect',{x:x0,y:y0,width:x1-x0,height:y1-y0,fill:'none',stroke:'#000','stroke-width':'1'},g);
  
  
  const xa=mk('g',{},g);
  
  
  mk('line',{x1:xs(0),x2:xs(24),y1:y1+1,y2:y1+1,stroke:'#000'},xa);
  X_TICKS.forEach(v=>{
    mk('line',{x1:xs(v),x2:xs(v),y1:y1+1,y2:y1+5,stroke:'#000'},xa);
    const tl=mk('text',{x:xs(v),y:y1+16,'text-anchor':'middle','font-size':'10'},xa);
    tl.textContent=String(v);
    
    
  });
  const ya=mk('g',{},g);
  
  
  const tk=p.ticks;
  mk('line',{x1:x0-1,x2:x0-1,y1:ys(tk[0]),y2:ys(tk[tk.length-1]),stroke:'#000'},ya);
  tk.forEach(v=>{mk('line',{x1:x0-5,x2:x0-1,y1:ys(v),y2:ys(v),stroke:'#000'},ya);});
  p.labels.forEach(([v,lab])=>{
    const yy=ys(v);
    const tl=mk('text',{x:x0-9,y:yy,'text-anchor':'middle','font-size':'10',transform:`rotate(-90 ${x0-9} ${yy})`},ya);
    tl.textContent=lab;
    
    
  });
  const yl=mk('text',{x:x0-24,y:(y0+y1)/2,'text-anchor':'middle','font-size':'10',transform:`rotate(-90 ${x0-24} ${(y0+y1)/2})`},g);
  yl.textContent=p.ylab;
  
  
});
</script>
</body></html>
